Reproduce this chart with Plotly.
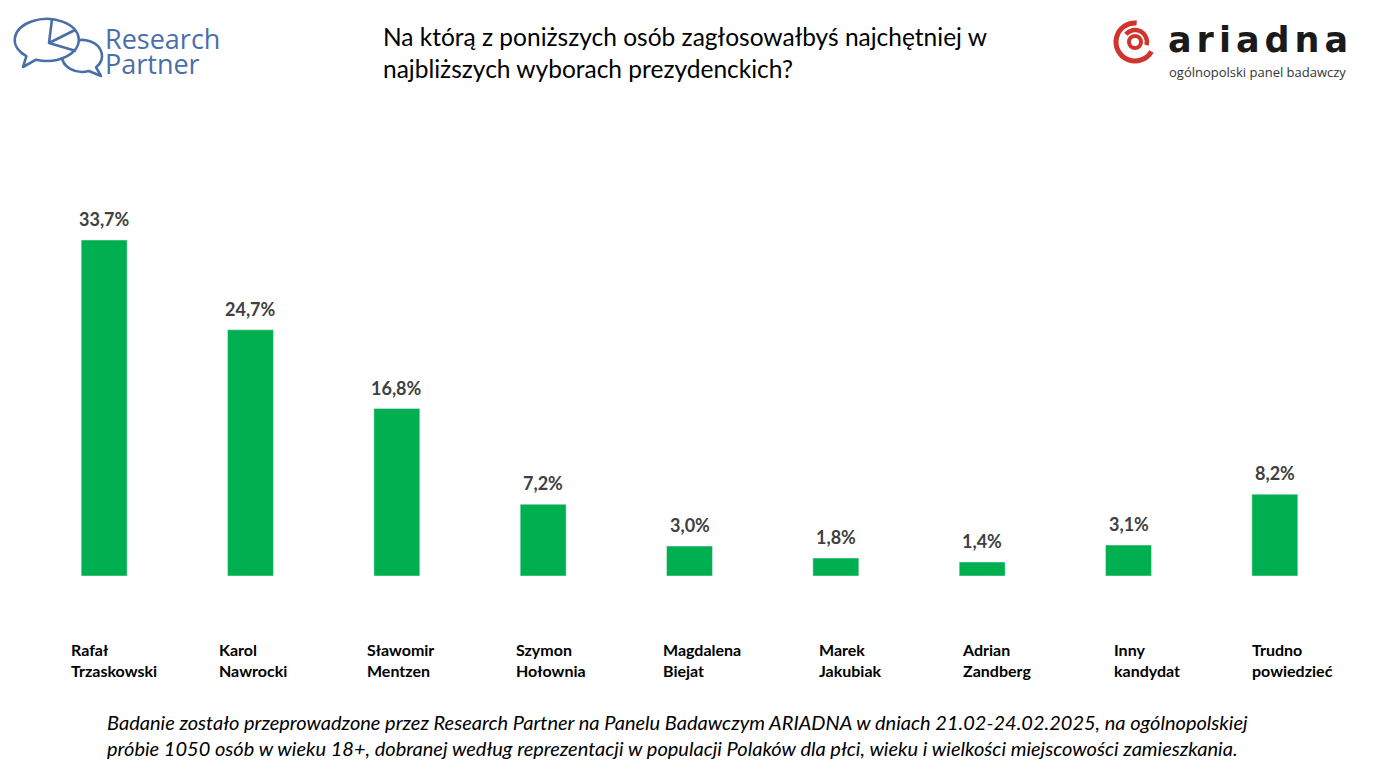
import base64
import plotly.graph_objects as go

# poll results (percent)
candidates = ["Rafał Trzaskowski", "Karol Nawrocki", "Sławomir Mentzen", "Szymon Hołownia",
              "Magdalena Biejat", "Marek Jakubiak", "Adrian Zandberg", "Inny kandydat",
              "Trudno powiedzieć"]
support = [33.7, 24.7, 16.8, 7.2, 3.0, 1.8, 1.4, 3.1, 8.2]

title_lines = ["Na którą z poniższych osób zagłosowałbyś najchętniej w",
               "najbliższych wyborach prezydenckich?"]
footer_lines = ["Badanie zostało przeprowadzone przez Research Partner na Panelu Badawczym ARIADNA "
                "w dniach 21.02-24.02.2025, na ogólnopolskiej",
                "próbie 1050 osób w wieku 18+, dobranej według reprezentacji w populacji Polaków "
                "dla płci, wieku i wielkości miejscowości zamieszkania."]

# layout in pixels
W, H = 1374, 769
L, R, T, B = 31, 26, 200, 193
PW, PH = W - L - R, H - T - B
GREEN = "#00b050"
BLUE = "#4a6fa8"
RED = "#d0342c"
label_shift = [-35, -34, -32, -29, -29, -19, -22, -17, -25]


def px_x(x):
    return (x - L) / PW


def px_y(y):
    return (H - B - y) / PH


def svg_uri(svg):
    return "data:image/svg+xml;base64," + base64.b64encode(svg.encode("utf-8")).decode("ascii")


# Research Partner icon, drawn in page pixels offset by (10, 10)
rp_icon = f"""<svg xmlns="http://www.w3.org/2000/svg" width="100" height="70" viewBox="10 10 100 70">
<g fill="white" stroke="{BLUE}" stroke-width="2.6" stroke-linejoin="round">
<path d="M 88.8 71 A 20 16 0 1 1 96.1 67.3 L 101 76 Z"/>
<path d="M 36.1 59.7 A 32 21 0 1 0 26.4 56.1 L 23 67 Z"/>
<path d="M 52 19.2 L 49 43 L 75 30 M 49 43 L 76 51" fill="none"/>
</g></svg>"""

# ariadna icon
ar_icon = f"""<svg xmlns="http://www.w3.org/2000/svg" width="50" height="50" viewBox="0 0 50 50">
<g fill="none" stroke="{RED}" stroke-linecap="butt">
<path d="M 26.66 6.07 A 19 19 0 1 0 41.45 34.5" stroke-width="5"/>
<path d="M 15.81 17.29 A 12 12 0 0 1 36.59 28.11" stroke-width="4.5"/>
<circle cx="25" cy="25" r="6" stroke-width="4"/>
</g></svg>"""

fig = go.Figure(go.Bar(
    x=candidates, y=support, marker_color=GREEN, hoverinfo="skip",
))

ann = []
for name, v in zip(candidates, support):
    ann.append(dict(x=name, y=v, xref="x", yref="y", yanchor="bottom", yshift=8,
                    text="<b>" + f"{v:.1f}".replace(".", ",") + "%</b>", showarrow=False,
                    font=dict(family="Lato", size=18, color="#404040")))
for name, s in zip(candidates, label_shift):
    ann.append(dict(x=name, y=px_y(659.5), xref="x", yref="paper", xanchor="left", yanchor="middle",
                    xshift=s, align="left", showarrow=False,
                    text="<b>" + name.replace(" ", "<br>") + "</b>",
                    font=dict(family="Lato", size=16, color="#000000")))

ann.append(dict(x=px_x(381), y=px_y(52), xref="paper", yref="paper", xanchor="left", yanchor="middle",
                align="left", showarrow=False, text="<br>".join(title_lines),
                font=dict(family="Lato", size=24.5, color="#000000")))
ann.append(dict(x=px_x(105), y=px_y(734.5), xref="paper", yref="paper", xanchor="left", yanchor="middle",
                align="left", showarrow=False, text="<i>" + "<br>".join(footer_lines) + "</i>",
                font=dict(family="Lato", size=20, color="#000000")))

# logos text
ann.append(dict(x=px_x(103), y=px_y(38), xref="paper", yref="paper", xanchor="left", yanchor="middle",
                showarrow=False, text="Research", height=24,
                font=dict(family="Open Sans", size=27, color=BLUE)))
ann.append(dict(x=px_x(103), y=px_y(63), xref="paper", yref="paper", xanchor="left", yanchor="middle",
                showarrow=False, text="Partner", height=24,
                font=dict(family="Open Sans", size=27, color=BLUE)))
ann.append(dict(x=px_x(1166), y=px_y(40), xref="paper", yref="paper", xanchor="left", yanchor="middle",
                showarrow=False,
                text='<span style="letter-spacing:5px"><b>ariadna</b></span>',
                font=dict(family="DejaVu Sans", size=35, color="#1a1a1a")))
ann.append(dict(x=px_x(1167), y=px_y(72), xref="paper", yref="paper", xanchor="left", yanchor="middle",
                showarrow=False, text="ogólnopolski panel badawczy",
                font=dict(family="Open Sans", size=13, color="#333333")))

images = [
    dict(source=svg_uri(rp_icon), xref="paper", yref="paper", x=px_x(10), y=px_y(10),
         sizex=100 / PW, sizey=70 / PH, xanchor="left", yanchor="top", sizing="stretch", layer="above"),
    dict(source=svg_uri(ar_icon), xref="paper", yref="paper", x=px_x(1110), y=px_y(17),
         sizex=50 / PW, sizey=50 / PH, xanchor="left", yanchor="top", sizing="stretch", layer="above"),
]

fig.update_layout(
    width=W, height=H,
    margin=dict(l=L, r=R, t=T, b=B, pad=0),
    paper_bgcolor="white", plot_bgcolor="white",
    bargap=0.686,
    showlegend=False,
    annotations=ann,
    images=images,
    xaxis=dict(visible=False, fixedrange=True),
    yaxis=dict(visible=False, range=[0, PH / 9.97], fixedrange=True),
)

fig.write_html("out.html", config={"displayModeBar": False},
               post_script="document.body.style.margin='0px';")
